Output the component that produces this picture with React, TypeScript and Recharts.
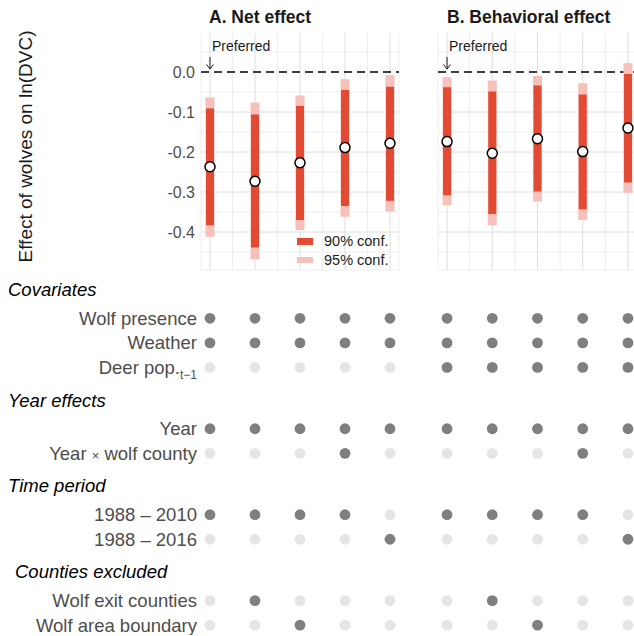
import { ComposedChart, Scatter, ErrorBar, XAxis, YAxis, CartesianGrid, ReferenceLine, ReferenceDot, ScatterChart, Cell } from "recharts";

const FONT = "'Liberation Sans', Arial, Helvetica, sans-serif";
const RED = "#e34a33";
const PINK = "#f6c1ba";
const ON = "#7f7f7f";
const OFF = "#e5e5e5";

// model estimates, panel A (net effect)
const A_EST = [-0.237, -0.273, -0.227, -0.189, -0.178];
const A_LO90 = [-0.383, -0.439, -0.37, -0.335, -0.322];
const A_HI90 = [-0.091, -0.106, -0.085, -0.045, -0.037];
const A_LO95 = [-0.412, -0.468, -0.395, -0.362, -0.349];
const A_HI95 = [-0.063, -0.076, -0.059, -0.018, -0.008];

// panel B (behavioral effect)
const B_EST = [-0.174, -0.203, -0.167, -0.199, -0.14];
const B_LO90 = [-0.308, -0.355, -0.299, -0.343, -0.276];
const B_HI90 = [-0.038, -0.049, -0.034, -0.056, -0.005];
const B_LO95 = [-0.333, -0.383, -0.324, -0.37, -0.302];
const B_HI95 = [-0.013, -0.021, -0.01, -0.028, 0.022];

const Y_TICKS = [0, -0.1, -0.2, -0.3, -0.4];
const Y_MINOR = [0.05, -0.05, -0.15, -0.25, -0.35, -0.45];
const Y_DOMAIN: [number, number] = [-0.495, 0.0975];
const X_DOMAIN: [number, number] = [0.8, 5.2];
const X_MAJOR = [1, 2, 3, 4, 5];
const X_MINOR = [1.5, 2.5, 3.5, 4.5];

// specification matrix
const GROUPS = ["Covariates", "Year effects", "Time period", "Counties excluded"];
const ROW_LABELS = ["Wolf presence", "Weather", "Deer pop.", "Year", "Year \u00d7 wolf county", "1988 \u2013 2010", "1988 \u2013 2016", "Wolf exit counties", "Wolf area boundary"];
const ROW_GROUP = [0, 0, 0, 1, 1, 2, 2, 3, 3];
const SPEC_A = [
  [1, 1, 1, 1, 1],
  [1, 1, 1, 1, 1],
  [0, 0, 0, 0, 0],
  [1, 1, 1, 1, 1],
  [0, 0, 0, 1, 0],
  [1, 1, 1, 1, 0],
  [0, 0, 0, 0, 1],
  [0, 1, 0, 0, 0],
  [0, 0, 1, 0, 0],
];
const SPEC_B = [
  [1, 1, 1, 1, 1],
  [1, 1, 1, 1, 1],
  [1, 1, 1, 1, 1],
  [1, 1, 1, 1, 1],
  [0, 0, 0, 1, 0],
  [1, 1, 1, 1, 0],
  [0, 0, 0, 0, 1],
  [0, 1, 0, 0, 0],
  [0, 0, 1, 0, 0],
];

const GROUP_GAP = 1.5;
const ROW_POS = ROW_GROUP.map((g, i) => i + g * GROUP_GAP);
const HEAD_POS = GROUPS.map((_, g) => ROW_POS[ROW_GROUP.indexOf(g)] - 1.17);
const M_DOMAIN: [number, number] = [-1.6, 12.9];
const key = (v: number) => v.toFixed(3);
const TICK_INFO = new Map<string, { label: string; head: boolean; idx: number }>();
ROW_POS.forEach((p, i) => TICK_INFO.set(key(p), { label: ROW_LABELS[i], head: false, idx: i }));
HEAD_POS.forEach((p, g) => TICK_INFO.set(key(p), { label: GROUPS[g], head: true, idx: g }));
const M_TICKS = [...HEAD_POS, ...ROW_POS].sort((a, b) => a - b);

const buildEst = (est: number[], lo90: number[], hi90: number[], lo95: number[], hi95: number[]) =>
  est.map((e, i) => ({
    x: i + 1,
    est: e,
    e90: [e - lo90[i], hi90[i] - e],
    e95: [e - lo95[i], hi95[i] - e],
  }));

const buildSpec = (spec: number[][]) =>
  spec.flatMap((row, i) => row.map((on, j) => ({ x: j + 1, y: ROW_POS[i], on })));

const DATA_A = buildEst(A_EST, A_LO90, A_HI90, A_LO95, A_HI95);
const DATA_B = buildEst(B_EST, B_LO90, B_HI90, B_LO95, B_HI95);

const mapScale = (axis: any, v: number, start: number, size: number, dom: [number, number], flip: boolean) => {
  const s = axis?.scale;
  if (typeof s === "function") return s(v);
  if (s && typeof s.map === "function") return s.map(v);
  const t = (v - dom[0]) / (dom[1] - dom[0]);
  return flip ? start + size * (1 - t) : start + size * t;
};

const grid = (xs: number[], ys: number[], color: string) => (
  <CartesianGrid
    stroke={color}
    strokeWidth={1}
    verticalCoordinatesGenerator={({ xAxis, offset }: any) =>
      xs.map((v) => mapScale(xAxis, v, offset.left, offset.width, X_DOMAIN, false))
    }
    horizontalCoordinatesGenerator={({ yAxis, offset }: any) =>
      ys.map((v) => mapScale(yAxis, v, offset.top, offset.height, Y_DOMAIN, true))
    }
  />
);

const Preferred = (p: any) => (
  <g fontFamily={FONT}>
    <text x={p.cx + 2} y={p.cy} dy="0.35em" fontSize={14} fill="#1a1a1a">
      Preferred
    </text>
    <path
      d={`M${p.cx},${p.cy + 11} L${p.cx},${p.cy + 23} M${p.cx - 3.5},${p.cy + 18.5} L${p.cx},${p.cy + 23} L${p.cx + 3.5},${p.cy + 18.5}`}
      stroke="#1a1a1a"
      strokeWidth={1}
      fill="none"
    />
  </g>
);

const Point = (p: any) => <circle cx={p.cx} cy={p.cy} r={5} fill="#fff" stroke="#000" strokeWidth={1.5} />;

function EstPanel({ data, axis, width, ml }: { data: any[]; axis: boolean; width: number; ml: number }) {
  return (
    <ComposedChart width={width} height={280} data={data} margin={{ top: 33, right: 10, bottom: 10, left: ml }}>
      {grid([X_DOMAIN[0], ...X_MINOR, X_DOMAIN[1]], [Y_DOMAIN[0], ...Y_MINOR], "#eeeeee")}
      {grid(X_MAJOR, Y_TICKS.slice(1), "#dedede")}
      <XAxis dataKey="x" type="number" domain={X_DOMAIN} hide allowDataOverflow />
      <YAxis
        type="number"
        domain={Y_DOMAIN}
        ticks={Y_TICKS}
        interval={0}
        hide={!axis}
        width={201}
        allowDataOverflow
        axisLine={false}
        tickLine={false}
        tickSize={0}
        tickMargin={6}
        tickFormatter={(v: number) => v.toFixed(1)}
        tick={{ fontSize: 16, fill: "#4d4d4d", fontFamily: FONT }}
        label={{
          content: ({ viewBox }: any) => {
            const cy = viewBox.y + viewBox.height / 2 - 5;
            return (
              <text x={25} y={cy} transform={`rotate(-90, 25, ${cy})`} textAnchor="middle" dominantBaseline="central" fontSize={19} fill="#1a1a1a" fontFamily={FONT}>
                Effect of wolves on ln(DVC)
              </text>
            );
          },
        }}
      />
      <ReferenceLine y={0} stroke="#000" strokeWidth={1.5} strokeDasharray="8 5" />
      <ReferenceDot x={1} y={0.065} r={0} shape={Preferred} />
      <Scatter dataKey="est" isAnimationActive={false} shape={Point}>
        <ErrorBar dataKey="e95" direction="y" width={0} stroke={PINK} strokeWidth={9} isAnimationActive={false} />
        <ErrorBar dataKey="e90" direction="y" width={0} stroke={RED} strokeWidth={8} isAnimationActive={false} />
      </Scatter>
    </ComposedChart>
  );
}

const MatrixTick = (p: any) => {
  const info = TICK_INFO.get(key(p.payload.value));
  if (!info) return null;
  if (info.head) {
    return (
      <text x={info.idx === 3 ? 15 : 8} y={p.y} dy="0.35em" fontSize={18.5} fontStyle="italic" fill="#000" fontFamily={FONT}>
        {info.label}
      </text>
    );
  }
  const parts = info.label.split("\u00d7");
  return (
    <text x={p.x} y={p.y} dy="0.35em" textAnchor="end" fontSize={18.5} fill="#4d4d4d" fontFamily={FONT}>
      {parts.length > 1 ? (
        <>
          <tspan>{parts[0]}</tspan>
          <tspan fontSize={13}>{"\u00d7"}</tspan>
          <tspan>{parts[1]}</tspan>
        </>
      ) : (
        <tspan>{info.label}</tspan>
      )}
      {info.idx === 2 && (
        <tspan fontSize={12} dy={5}>
          t{"\u2212"}1
        </tspan>
      )}
    </text>
  );
};

function SpecPanel({ spec, axis, width, ml }: { spec: number[][]; axis: boolean; width: number; ml: number }) {
  const data = buildSpec(spec);
  return (
    <ScatterChart width={width} height={356} margin={{ top: 0, right: 10, bottom: 0, left: ml }}>
      <XAxis dataKey="x" type="number" domain={X_DOMAIN} hide allowDataOverflow />
      <YAxis
        dataKey="y"
        type="number"
        domain={M_DOMAIN}
        reversed
        ticks={M_TICKS}
        interval={0}
        hide={!axis}
        width={201}
        allowDataOverflow
        axisLine={false}
        tickLine={false}
        tickSize={0}
        tickMargin={4}
        tick={<MatrixTick />}
      />
      <Scatter data={data} isAnimationActive={false} shape={(p: any) => <circle cx={p.cx} cy={p.cy} r={5.4} fill={p.fill} />}>
        {data.map((d, i) => (
          <Cell key={i} fill={d.on ? ON : OFF} />
        ))}
      </Scatter>
    </ScatterChart>
  );
}

const abs = (left: number, top: number): React.CSSProperties => ({ position: "absolute", left, top });

export default function App() {
  return (
    <div style={{ position: "absolute", left: 0, top: 0, width: 634, height: 636, overflow: "hidden", background: "#fff", fontFamily: FONT }}>
      <div style={abs(0, 0)}>
        <EstPanel data={DATA_A} axis width={409} ml={0} />
      </div>
      <div style={abs(430, 0)}>
        <EstPanel data={DATA_B} axis={false} width={217} ml={8} />
      </div>
      <div style={abs(0, 279)}>
        <SpecPanel spec={SPEC_A} axis width={409} ml={0} />
      </div>
      <div style={abs(430, 279)}>
        <SpecPanel spec={SPEC_B} axis={false} width={217} ml={8} />
      </div>

      <div style={{ ...abs(209, 8), fontSize: 17.5, fontWeight: "bold", lineHeight: "18px", color: "#1a1a1a" }}>A. Net effect</div>
      <div style={{ ...abs(447, 8), fontSize: 17.5, fontWeight: "bold", lineHeight: "18px", color: "#1a1a1a" }}>B. Behavioral effect</div>

      <div style={{ ...abs(297, 238), width: 16, height: 7, background: RED }} />
      <div style={{ ...abs(297, 256.5), width: 16, height: 6.5, background: PINK }} />
      <div style={{ ...abs(324, 233), fontSize: 14.5, lineHeight: "17px", color: "#1a1a1a" }}>90% conf.</div>
      <div style={{ ...abs(324, 251.5), fontSize: 14.5, lineHeight: "17px", color: "#1a1a1a" }}>95% conf.</div>
    </div>
  );
}
